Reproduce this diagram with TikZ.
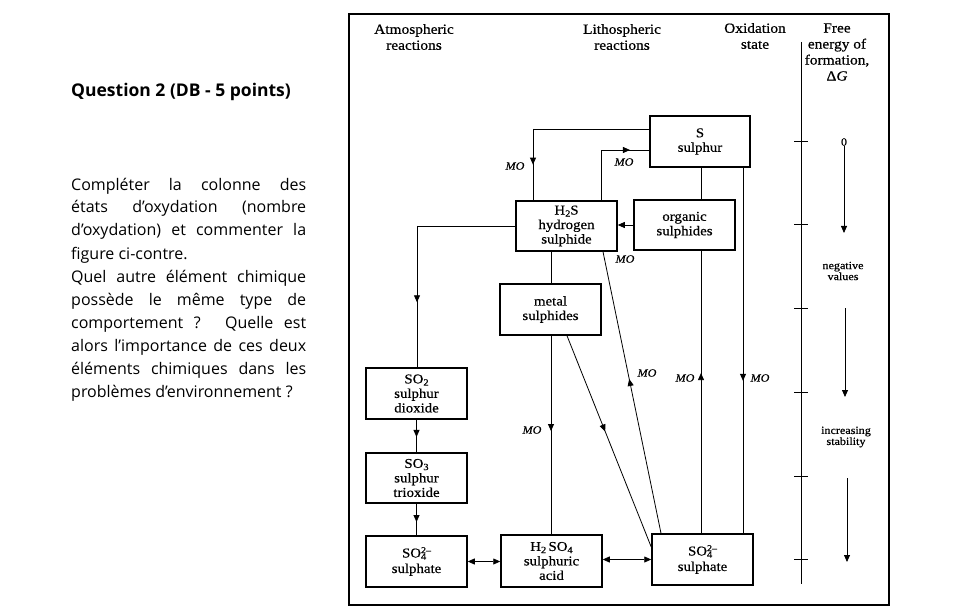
\documentclass[tikz,border=0pt]{standalone}
\usepackage{fontspec}
\setmainfont{Liberation Serif}[FakeStretch=1.1,FakeBold=0.6]
\newfontfamily\comic{Open Sans}
\usetikzlibrary{arrows.meta,decorations.markings,calc}
\newcommand\lsub[1]{\raisebox{-0.35ex}{\fontsize{9.5}{9.5}\selectfont #1}}
\newcommand\sulfate{SO\rlap{\lsub{4}}\raisebox{0.7ex}{\fontsize{9}{9}\selectfont 2–}}
\tikzset{
 box/.style={draw, line width=1.5pt, rectangle, inner sep=0pt, align=center, font=\fontsize{13.5}{14.5}\selectfont},
 conn/.style={line width=0.8pt},
 midarrow/.style={postaction={decorate}, decoration={markings, mark=at position #1 with {\arrow{Triangle[length=7pt,width=6pt]}}}},
 tipend/.style={-{Triangle[length=7pt,width=6pt]}},
 dbl/.style={{Triangle[length=7pt,width=6pt]}-{Triangle[length=7pt,width=6pt]}},
 mo/.style={font=\fontsize{11}{11}\selectfont\itshape, inner sep=0pt},
 hdr/.style={align=center, font=\fontsize{14}{16}\selectfont, inner sep=0pt},
 small/.style={align=center, font=\fontsize{11}{11}\selectfont, inner sep=0pt},
 qtext/.style={anchor=base west, inner sep=0pt, font=\comic\fontsize{16}{23}\selectfont},
}
\begin{document}
\begin{tikzpicture}[x=1pt,y=-1pt]
\useasboundingbox (0,0) rectangle (970,615);
% left question text
\node[qtext, font=\comic\bfseries\fontsize{17.5}{23}\selectfont] (q0) at (71,97) {Question 2 (DB - 5 points)};
\node[qtext] (q1) at (71,190) {\makebox[235pt][s]{Compléter la colonne des}};
\node[qtext] (q2) at (71,213) {\makebox[235pt][s]{états d’oxydation (nombre}};
\node[qtext] (q3) at (71,236) {\makebox[235pt][s]{d’oxydation) et commenter la}};
\node[qtext] (q4) at (71,259) {figure ci-contre.};
\node[qtext] (q5) at (71,282) {\makebox[235pt][s]{Quel autre élément chimique}};
\node[qtext] (q6) at (71,305) {\makebox[235pt][s]{possède le même type de}};
\node[qtext] (q7) at (71,328) {\makebox[235pt][s]{comportement ? Quelle est}};
\node[qtext] (q8) at (71,351) {\makebox[235pt][s]{alors l’importance de ces deux}};
\node[qtext] (q9) at (71,374) {\makebox[235pt][s]{éléments chimiques dans les}};
\node[qtext] (q10) at (71,397) {problèmes d’environnement ?};
% frame
\draw[line width=2.6pt] (349,14) rectangle (889,605);
% headers
\node[hdr] (h1) at (414,37) {Atmospheric\\reactions};
\node[hdr] (h2) at (622,37) {Lithospheric\\reactions};
\node[hdr] (h3) at (755,36) {Oxidation\\state};
\node[hdr] (h4) at (837,52) {Free\\energy of\\formation,\\Δ\textit{G}};
% boxes
\node[box, minimum width=100pt, minimum height=51pt] (S) at (700,141.5) {S\\sulphur};
\node[box, minimum width=101pt, minimum height=50pt] (H2S) at (566.5,226) {H\lsub{2}S\\hydrogen\\sulphide};
\node[box, minimum width=101pt, minimum height=50pt] (org) at (684.5,225) {organic\\sulphides};
\node[box, minimum width=101pt, minimum height=51pt] (metal) at (550.5,309.5) {metal\\sulphides};
\node[box, minimum width=101pt, minimum height=51pt] (SO2) at (416.5,393.5) {SO\lsub{2}\\sulphur\\dioxide};
\node[box, minimum width=101pt, minimum height=50pt] (SO3) at (416.5,478) {SO\lsub{3}\\sulphur\\trioxide};
\node[box, minimum width=101pt, minimum height=51pt] (SO4L) at (416.5,561.5) {\sulfate\\[1pt]sulphate};
\node[box, minimum width=101pt, minimum height=52pt] (H2SO4) at (551.5,561) {H\lsub{2}\,SO\lsub{4}\\sulphuric\\acid};
\node[box, minimum width=101pt, minimum height=51pt] (SO4R) at (702.5,559.5) {\sulfate\\[1pt]sulphate};
% coordinates
\coordinate (c1) at (533,129);
\coordinate (c2) at (601,150);
\coordinate (c3) at (417,226);
\coordinate (x701) at (701,0);
\coordinate (x743) at (743,0);
\coordinate (x551) at (551,0);
\coordinate (x603) at (603,0);
\coordinate (x661) at (661,0);
\coordinate (x567) at (567,0);
\coordinate (y547) at (0,547);
% connectors
\draw[conn] (S.west |- c1) -- (c1);
\draw[conn, midarrow=0.5] (c1) -- (H2S.north -| c1);
\draw[conn] (H2S.north -| c2) -- (c2);
\draw[conn, midarrow=0.6] (c2) -- (S.west |- c2);
\draw[conn] (S.south -| x701) -- (org.north -| x701);
\draw[conn, midarrow=0.567] (SO4R.north -| x701) -- (org.south -| x701);
\draw[conn, midarrow=0.583] (S.south -| x743) -- (SO4R.north -| x743);
\draw[conn, tipend] (org.west) -- (org.west -| H2S.east);
\draw[conn] (H2S.south -| x551) -- (metal.north -| x551);
\draw[conn] (H2S.west) -- (c3);
\draw[conn, midarrow=0.54] (c3) -- (SO2.north -| c3);
\draw[conn, midarrow=0.548] (SO4R.north -| x661) -- (H2S.south -| x603);
\draw[conn, midarrow=0.453] (metal.south -| x567) -- (SO4R.west |- y547);
\draw[conn, midarrow=0.48] (metal.south -| x551) -- (H2SO4.north -| x551);
\draw[conn, midarrow=0.53] (SO2.south) -- (SO3.north);
\draw[conn, midarrow=0.58] (SO3.south) -- (SO4L.north);
\draw[conn, dbl] (SO4L.east) -- (SO4L.east -| H2SO4.west);
\draw[conn, dbl] (SO4R.west) -- (SO4R.west -| H2SO4.east);
% MO labels
\node[mo] (mo1) at (515,166) {MO};
\node[mo] (mo2) at (624,162) {MO};
\node[mo] (mo3) at (625,259) {MO};
\node[mo] (mo4) at (647,373) {MO};
\node[mo] (mo5) at (685,378) {MO};
\node[mo] (mo6) at (760,378) {MO};
\node[mo] (mo7) at (532,430) {MO};
% oxidation state axis
\coordinate (ax1) at (801,42);
\coordinate (ax2) at (801,584);
\draw[conn] (ax1) -- (ax2);
\foreach \t in {141,224,308,392,476,559} {\draw[conn] (794,\t) -- (808,\t);}
% free energy column
\node[small] (zero) at (844,142) {0};
\coordinate (e1) at (844,233);
\draw[conn, tipend] (zero.south) -- (e1);
\node[small] (neg) at (843,271) {negative\\values};
\coordinate (e2a) at (845,308);
\coordinate (e2b) at (845,397);
\draw[conn, tipend] (e2a) -- (e2b);
\node[small] (inc) at (846,437) {increasing\\stability};
\coordinate (e3a) at (847,478);
\coordinate (e3b) at (847,562);
\draw[conn, tipend] (e3a) -- (e3b);
\end{tikzpicture}
\end{document}
